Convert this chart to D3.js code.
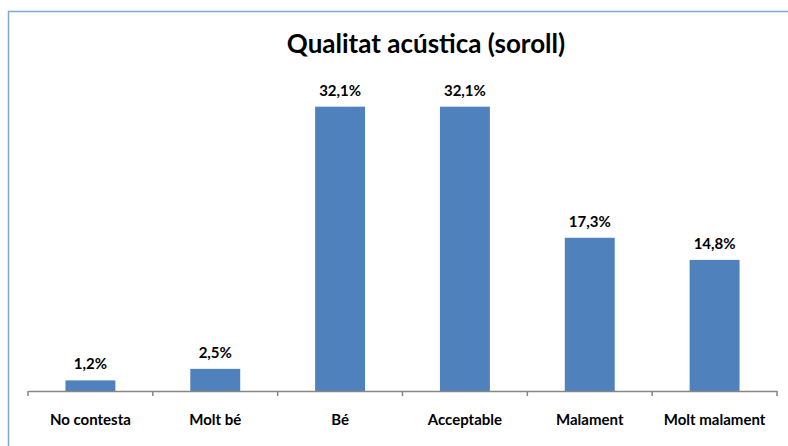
<!DOCTYPE html>
<html><head><meta charset="utf-8">
<script src="https://cdn.jsdelivr.net/npm/d3@7"></script>
<style>body{margin:0;background:#fff}svg{display:block}text{font-family:Lato,"Open Sans",sans-serif;font-weight:bold;fill:#000}</style>
</head><body><svg id="c" width="788" height="446"></svg>
<script>
const categories = ["No contesta","Molt bé","Bé","Acceptable","Malament","Molt malament"];
const values = [1.2, 2.5, 32.1, 32.1, 17.3, 14.8];
const labels = ["1,2%","2,5%","32,1%","32,1%","17,3%","14,8%"];
const title = "Qualitat acústica (soroll)";

const svg = d3.select("#c");
svg.append("rect").attr("x",8.5).attr("y",11.5).attr("width",800).attr("height",500)
  .attr("fill","#fff").attr("stroke","#7FA6D6").attr("stroke-width",1.5);

const x = d3.scaleBand().domain(categories).range([28,777]).paddingInner(0.6).paddingOuter(0.3);
const xb = d3.scaleBand().domain(categories).range([28,777]);
const y = d3.scaleLinear().domain([0,35]).range([391,81]);

svg.append("text").attr("x",426).attr("y",53).attr("text-anchor","middle")
  .style("font-size","26px").text(title);

svg.selectAll("rect.bar").data(values).join("rect").attr("class","bar")
  .attr("x",(d,i)=>x(categories[i])).attr("width",x.bandwidth())
  .attr("y",d=>y(d)).attr("height",d=>y(0)-y(d)).attr("fill","#4F81BD");

svg.selectAll("text.val").data(values).join("text").attr("class","val")
  .attr("x",(d,i)=>x(categories[i])+x.bandwidth()/2).attr("y",d=>y(d)-11)
  .attr("text-anchor","middle").style("font-size","15px").text((d,i)=>labels[i]);

const ax = svg.append("g").attr("transform","translate(0,391)")
  .call(d3.axisBottom(xb).tickSize(0).tickPadding(0).tickFormat(()=>"" ));
ax.select(".domain").attr("stroke","#868686").attr("stroke-width",1.5);
ax.selectAll(".tick").remove();
const bounds = categories.map(c=>xb(c)).concat([xb.range()[1]]);
ax.selectAll("line.tk").data(bounds).join("line").attr("class","tk")
  .attr("x1",d=>d).attr("x2",d=>d).attr("y1",0).attr("y2",5)
  .attr("stroke","#868686").attr("stroke-width",1.5);
ax.selectAll("text.cat").data(categories).join("text").attr("class","cat")
  .attr("x",d=>xb(d)+xb.bandwidth()/2).attr("y",34).attr("text-anchor","middle")
  .style("font-size","15px").text(d=>d);
</script></body></html>
